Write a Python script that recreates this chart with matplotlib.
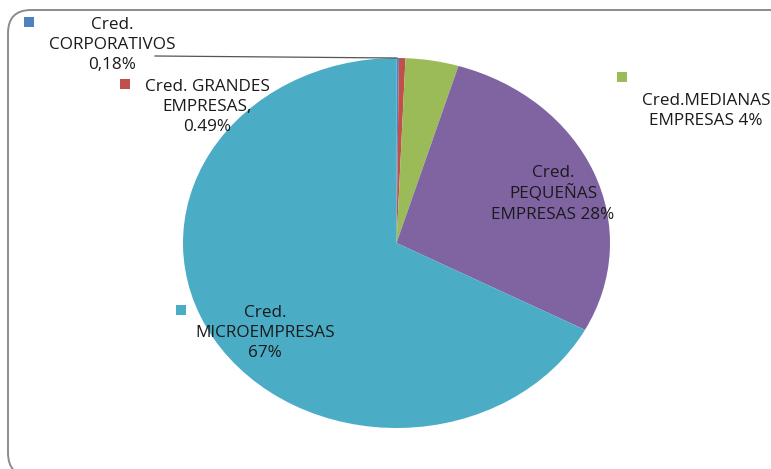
import matplotlib.pyplot as plt
from matplotlib.patches import FancyBboxPatch, Rectangle
from matplotlib.lines import Line2D

plt.rcParams['font.family'] = ['Open Sans', 'DejaVu Sans']

categories = ["Cred. CORPORATIVOS", "Cred. GRANDES EMPRESAS", "Cred.MEDIANAS EMPRESAS",
              "Cred. PEQUEÑAS EMPRESAS", "Cred. MICROEMPRESAS"]
shares = [0.18, 0.49, 4, 28, 67]
labels = ["Cred.\nCORPORATIVOS\n0,18%", "Cred. GRANDES\nEMPRESAS,\n0.49%",
          "Cred.MEDIANAS\nEMPRESAS 4%", "Cred.\nPEQUEÑAS\nEMPRESAS 28%",
          "Cred.\nMICROEMPRESAS\n67%"]
colors = ["#4F81BD", "#C0504D", "#9BBB59", "#8064A2", "#4BACC6"]

W, H = 771, 469
fig = plt.figure(figsize=(W / 100, H / 100), dpi=100)


def fx(px):
    return px / W


def fy(py):
    return 1 - py / H


# outer chart frame (cut off at the right and bottom)
fig.patches.append(FancyBboxPatch((fx(8), fy(476)), fx(900), (476 - 10) / H,
                                  boxstyle="round,pad=0,rounding_size=0.03",
                                  transform=fig.transFigure, fill=False,
                                  edgecolor="#8c8c8c", linewidth=1.4, mutation_aspect=W / H))

# pie area (slightly wider than tall, like the original)
ax = fig.add_axes([fx(183), fy(428), fx(610 - 183), (428 - 58) / H])
ax.pie(shares, colors=colors, startangle=90, counterclock=False, radius=1,
       wedgeprops=dict(linewidth=0))
ax.set_aspect('auto')
ax.set_xlim(-1, 1)
ax.set_ylim(-1, 1)
ax.axis('off')

# label text positions (pixel centres) and marker squares
label_pos = [(112, 45), (207, 107), (706, 111), (553, 194), (265, 333)]
marker_pos = [(29, 22), (125, 84), (622, 77), None, (181, 310)]

for lab, (x, y), m, c in zip(labels, label_pos, marker_pos, colors):
    fig.text(fx(x), fy(y), lab, ha='center', va='center', fontsize=12.3,
             color="#1a1a1a", linespacing=1.33)
    if m is not None:
        s = 10
        fig.patches.append(Rectangle((fx(m[0] - s / 2), fy(m[1] + s / 2)), s / W, s / H,
                                     transform=fig.transFigure, facecolor=c, edgecolor='none'))

# leader line for the tiny corporativos slice
fig.lines.append(Line2D([fx(155), fx(397)], [fy(56), fy(58)], transform=fig.transFigure,
                        color="#555555", linewidth=0.9))

fig.savefig("out.png", dpi=100)
